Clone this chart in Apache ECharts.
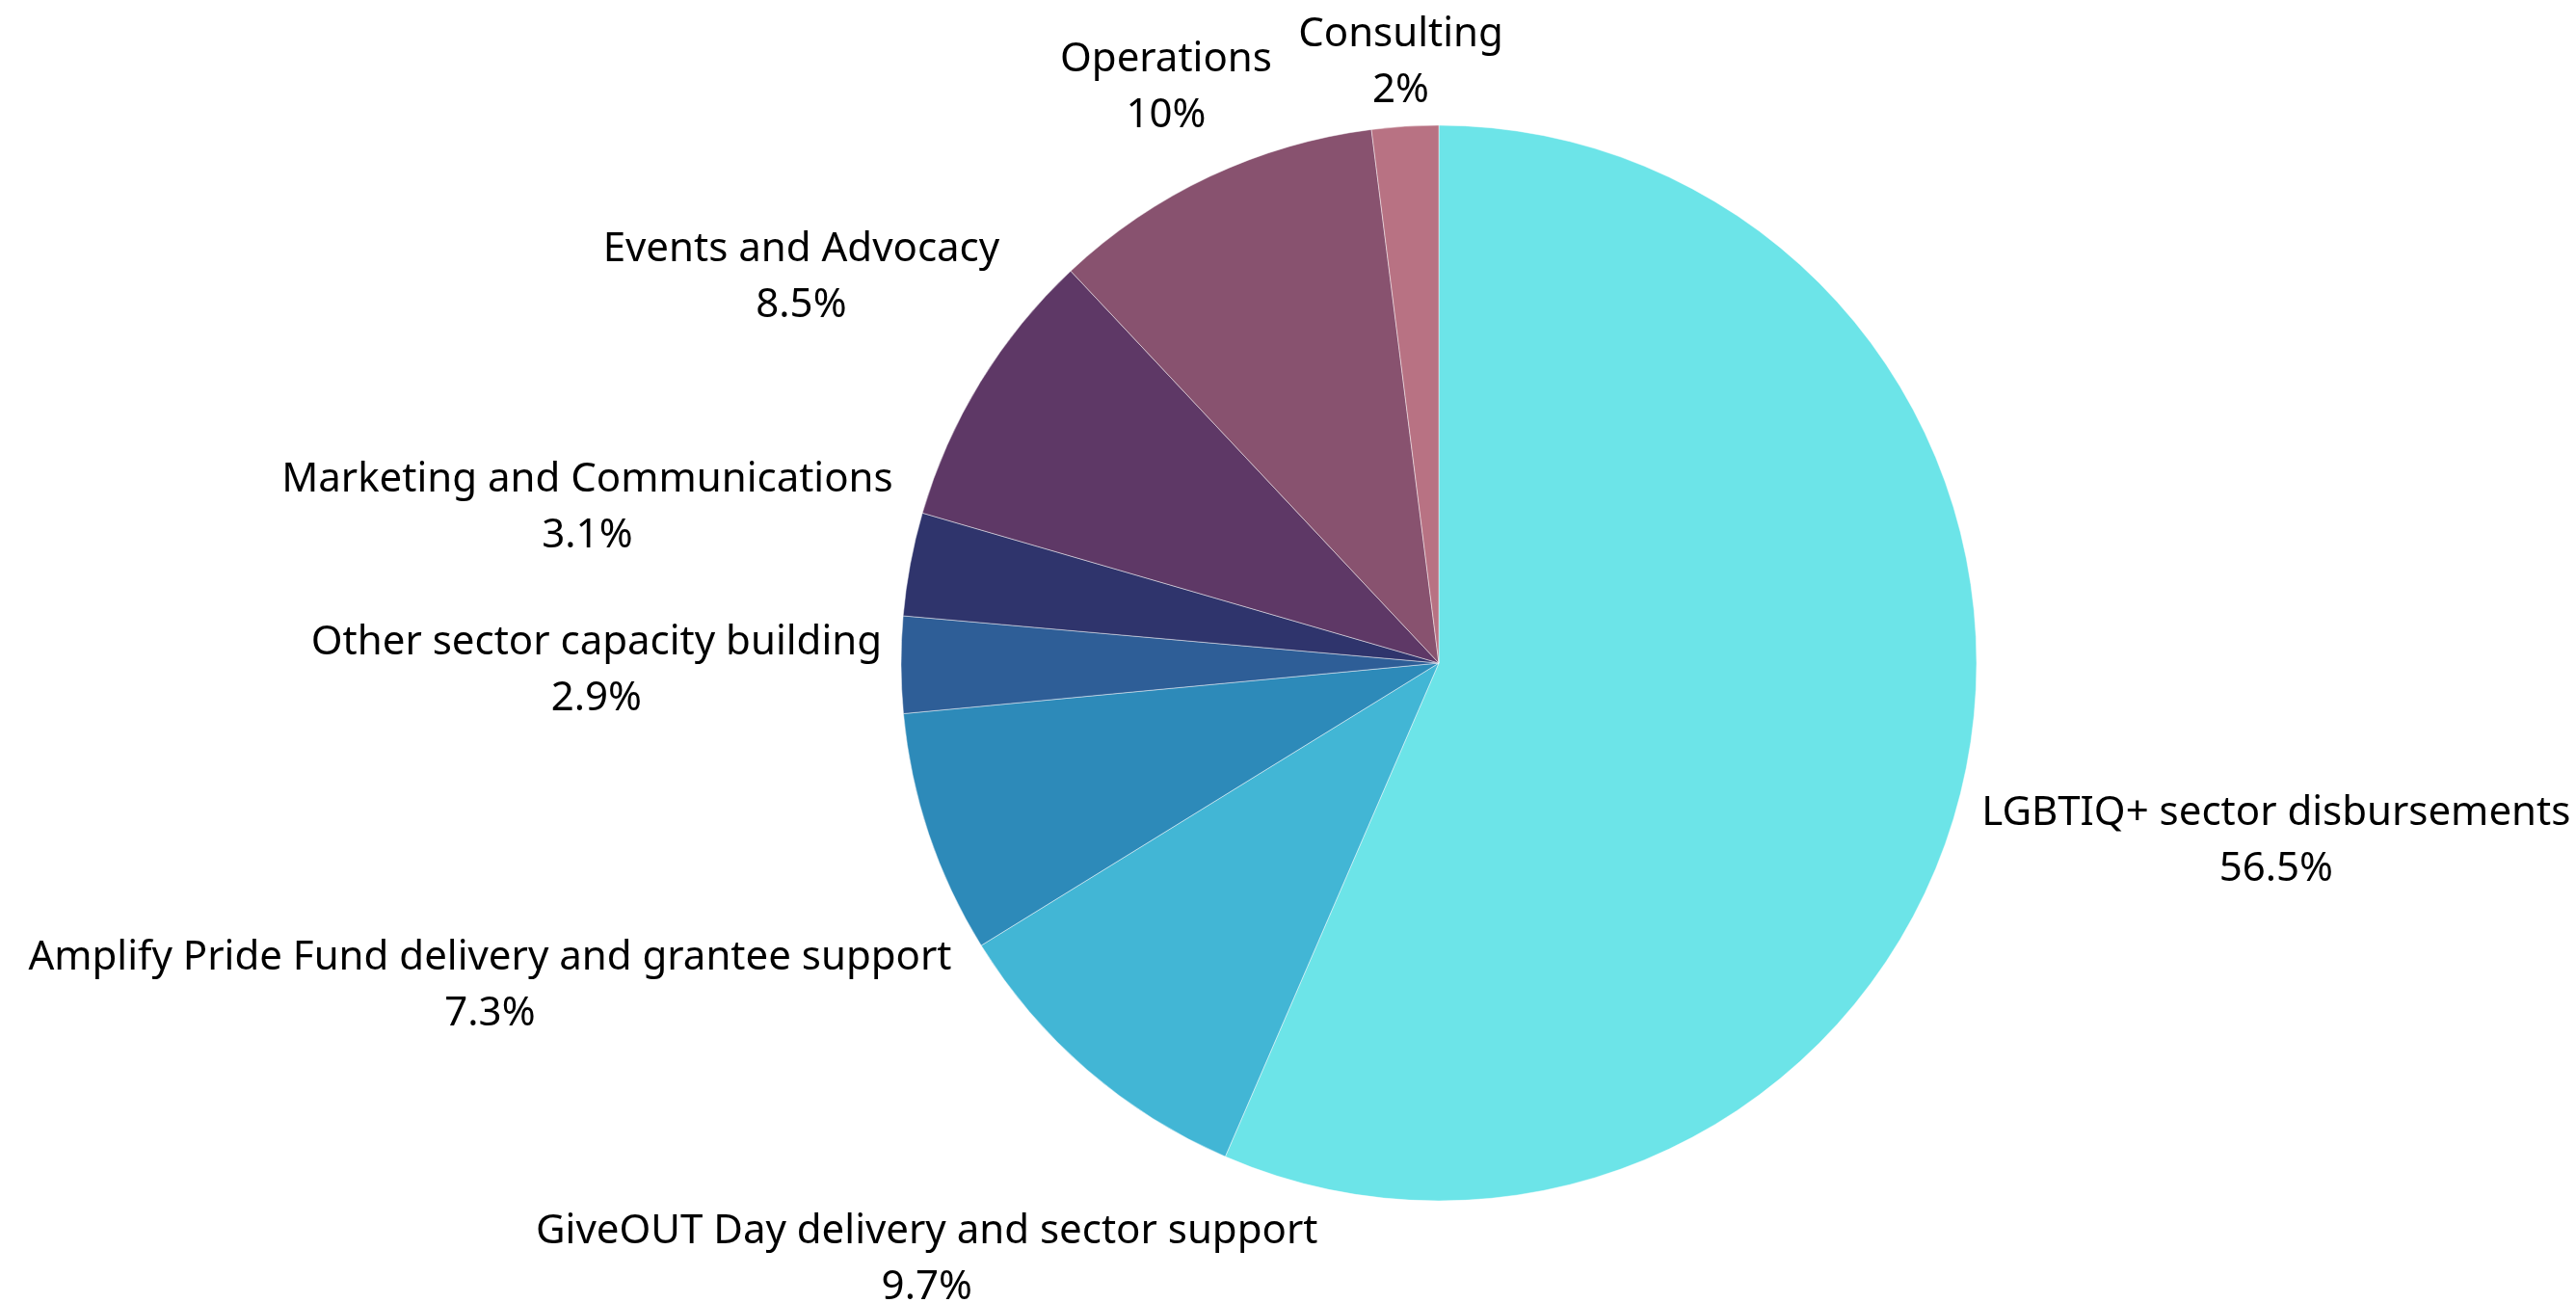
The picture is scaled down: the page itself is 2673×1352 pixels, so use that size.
<!DOCTYPE html>
<html>
<head>
<meta charset="utf-8">
<script src="https://cdn.jsdelivr.net/npm/echarts@6/dist/echarts.min.js"></script>
<style>
html,body{margin:0;padding:0;background:#fff;}
#chart{width:2673px;height:1352px;}
</style>
</head>
<body>
<div id="chart"></div>
<script>
const categories = [
  'LGBTIQ+ sector disbursements',
  'GiveOUT Day delivery and sector support',
  'Amplify Pride Fund delivery and grantee support',
  'Other sector capacity building',
  'Marketing and Communications',
  'Events and Advocacy',
  'Operations',
  'Consulting'
];
const values = [56.5, 9.7, 7.3, 2.9, 3.1, 8.5, 10, 2];
const colors = ['#6CE4E8', '#42B6D5', '#2D8AB9', '#2E5E97', '#2F346C', '#5E3866', '#88526F', '#B87283'];

const CX = 1493, CY = 688, R = 558;
const GAP = 20, VINSET = 8, TEXT_DY = 5;

const total = values.reduce((a, b) => a + b, 0);
function midAngle(i) {
  let before = 0;
  for (let k = 0; k < i; k++) before += values[k];
  return ((before + values[i] / 2) / total) * Math.PI * 2; // clockwise from top
}

const chart = echarts.init(document.getElementById('chart'), null, {renderer: 'canvas'});
const option = {
  backgroundColor: '#ffffff',
  animation: false,
  series: [{
    type: 'pie',
    center: [CX, CY],
    radius: R,
    startAngle: 90,
    clockwise: true,
    avoidLabelOverlap: false,
    data: categories.map((n, i) => ({name: n, value: values[i], itemStyle: {color: colors[i]}})),
    itemStyle: {borderColor: 'rgba(255,255,255,0.45)', borderWidth: 1},
    label: {
      show: true,
      position: 'outside',
      formatter: '{b}\n{c}%',
      fontFamily: 'Noto Sans',
      fontSize: 42,
      lineHeight: 58,
      color: '#000',
      align: 'center'
    },
    labelLine: {show: false},
    labelLayout: function (p) {
      const a = midAngle(p.dataIndex);
      const ux = Math.sin(a), uy = -Math.cos(a);
      const hw = p.labelRect.width / 2, hh = p.labelRect.height / 2 - VINSET;
      const target = R + GAP;
      let lo = 0, hi = 3000;
      for (let it = 0; it < 60; it++) {
        const d = (lo + hi) / 2;
        const x = Math.abs(d * ux), y = Math.abs(d * uy);
        const ex = Math.max(0, x - hw), ey = Math.max(0, y - hh);
        const dist = Math.sqrt(ex * ex + ey * ey);
        if (dist < target) lo = d; else hi = d;
      }
      const d = (lo + hi) / 2;
      return {x: CX + d * ux, y: CY + d * uy + TEXT_DY, align: 'center', verticalAlign: 'middle'};
    },
    emphasis: {disabled: true}
  }]
};
chart.setOption(option);
</script>
</body>
</html>
